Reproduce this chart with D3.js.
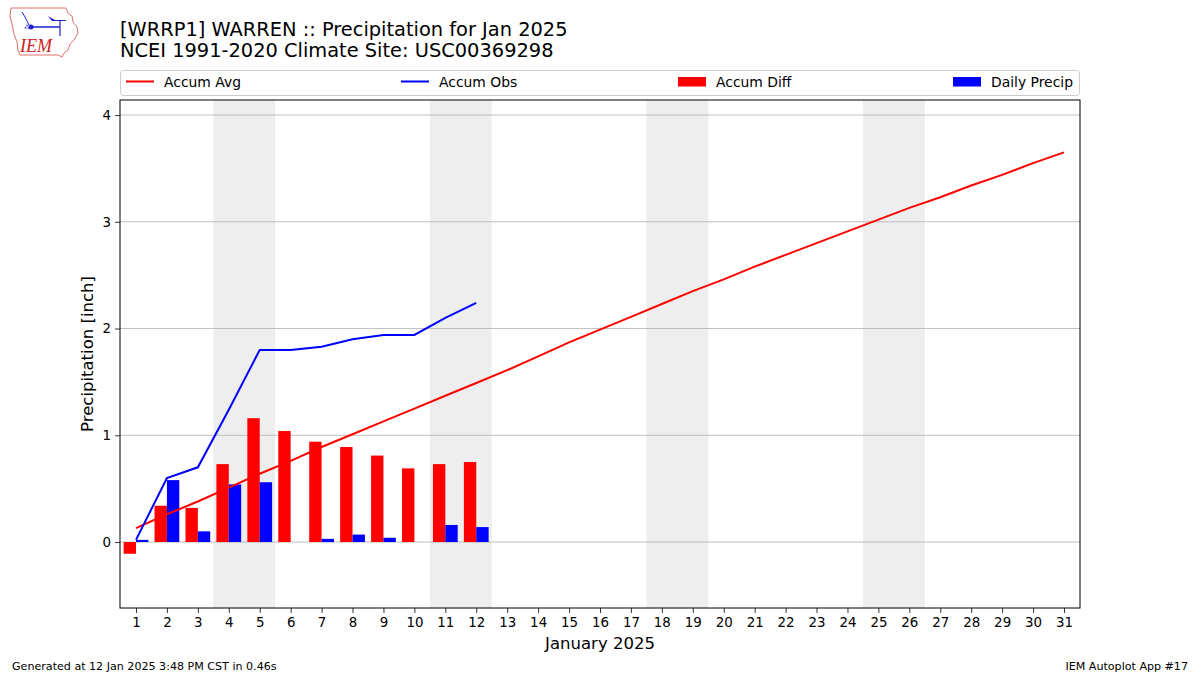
<!DOCTYPE html>
<html><head><meta charset="utf-8">
<script src="https://cdn.jsdelivr.net/npm/d3@7"></script>
<style>body{margin:0;background:#fff;}svg{display:block;font-family:"DejaVu Sans",sans-serif;}</style>
</head><body><svg id="c" width="1200" height="675"></svg>
<script>
const days = d3.range(1, 32);
const obsDays = d3.range(1, 13);
const accumAvg = [0.13,0.26,0.38,0.51,0.64,0.76,0.89,1.01,1.13,1.25,1.37,1.49,1.61,1.74,1.87,1.99,2.11,2.23,2.35,2.46,2.58,2.69,2.80,2.91,3.02,3.13,3.23,3.34,3.44,3.55,3.65];
const accumObs = [0.02,0.60,0.70,1.24,1.80,1.80,1.83,1.90,1.94,1.94,2.10,2.24];
const accumDiff = [-0.11,0.34,0.32,0.73,1.16,1.04,0.94,0.89,0.81,0.69,0.73,0.75];
const dailyPrecip = [0.02,0.58,0.10,0.54,0.56,0.00,0.03,0.07,0.04,0.00,0.16,0.14];
const weekends = [[4,5],[11,12],[18,19],[25,26]];
const yTicks = [0,1,2,3,4];

const svg = d3.select('#c');
const L=120,R=1080,T=100,B=608;
const x = d3.scaleLinear().domain([0.483,31.517]).range([L,R]);
const y = d3.scaleLinear().domain([-0.618,4.141]).range([B,T]);

// weekend shading
svg.selectAll('rect.wk').data(weekends).join('rect')
  .attr('x',d=>x(d[0]-0.5)).attr('width',d=>x(d[1]+0.5)-x(d[0]-0.5))
  .attr('y',T).attr('height',B-T).attr('fill','#eeeeee');

// grid
svg.selectAll('line.g').data(yTicks).join('line')
  .attr('x1',L).attr('x2',R).attr('y1',d=>y(d)).attr('y2',d=>y(d))
  .attr('stroke','#b0b0b0').attr('stroke-width',0.8);

// bars
svg.selectAll('rect.diff').data(accumDiff).join('rect')
  .attr('x',(d,i)=>x(obsDays[i]-0.4)).attr('width',(d,i)=>x(obsDays[i])-x(obsDays[i]-0.4))
  .attr('y',d=>y(Math.max(0,d))).attr('height',d=>Math.abs(y(d)-y(0)))
  .attr('fill','#ff0000');
svg.selectAll('rect.daily').data(dailyPrecip).join('rect')
  .attr('x',(d,i)=>x(obsDays[i])).attr('width',(d,i)=>x(obsDays[i]+0.4)-x(obsDays[i]))
  .attr('y',d=>y(Math.max(0,d))).attr('height',d=>Math.abs(y(d)-y(0)))
  .attr('fill','#0000ff');

// lines
const line = d3.line().x(d=>x(d[0])).y(d=>y(d[1]));
svg.append('path').attr('d',line(days.map((d,i)=>[d,accumAvg[i]])))
  .attr('fill','none').attr('stroke','#ff0000').attr('stroke-width',2);
svg.append('path').attr('d',line(obsDays.map((d,i)=>[d,accumObs[i]])))
  .attr('fill','none').attr('stroke','#0000ff').attr('stroke-width',2);

// axes
const xAxis = d3.axisBottom(x).tickValues(days).tickSize(5).tickPadding(4).tickFormat(d3.format('d'));
const gx = svg.append('g').attr('transform',`translate(0,${B})`).call(xAxis);
gx.select('.domain').remove();
gx.selectAll('text').attr('font-size',13.4).attr('font-family','DejaVu Sans').attr('fill','#000');
gx.selectAll('line').attr('stroke','#000').attr('stroke-width',0.8);
const yAxis = d3.axisLeft(y).tickValues(yTicks).tickSize(5).tickPadding(4).tickFormat(d3.format('d'));
const gy = svg.append('g').attr('transform',`translate(${L},0)`).call(yAxis);
gy.select('.domain').remove();
gy.selectAll('text').attr('font-size',13.4).attr('font-family','DejaVu Sans').attr('fill','#000');
gy.selectAll('line').attr('stroke','#000').attr('stroke-width',0.8);
svg.append('rect').attr('x',L).attr('y',T).attr('width',R-L).attr('height',B-T)
  .attr('fill','none').attr('stroke','#000').attr('stroke-width',1);

// labels
svg.append('text').attr('x',600).attr('y',649).attr('text-anchor','middle').attr('font-size',16.5).text('January 2025');
svg.append('text').attr('transform',`translate(93,${(T+B)/2}) rotate(-90)`).attr('text-anchor','middle').attr('font-size',16.5).text('Precipitation [inch]');
svg.append('text').attr('x',120).attr('y',35.5).attr('font-size',19.4).text('[WRRP1] WARREN :: Precipitation for Jan 2025');
svg.append('text').attr('x',120).attr('y',57).attr('font-size',19.4).text('NCEI 1991-2020 Climate Site: USC00369298');
svg.append('text').attr('x',12).attr('y',670).attr('font-size',11.1).text('Generated at 12 Jan 2025 3:48 PM CST in 0.46s');
svg.append('text').attr('x',1188).attr('y',670).attr('text-anchor','end').attr('font-size',11.1).text('IEM Autoplot App #17');

// legend
svg.append('rect').attr('x',120.5).attr('y',70.5).attr('width',959).attr('height',25).attr('rx',3)
  .attr('fill','#fff').attr('stroke','#cccccc');
const leg = [
  {name:'Accum Avg',type:'line',c:'#ff0000',x:126},
  {name:'Accum Obs',type:'line',c:'#0000ff',x:401},
  {name:'Accum Diff',type:'rect',c:'#ff0000',x:678},
  {name:'Daily Precip',type:'rect',c:'#0000ff',x:953}
];
leg.forEach(l=>{
  if(l.type==='line') svg.append('line').attr('x1',l.x).attr('x2',l.x+28).attr('y1',81.5).attr('y2',81.5).attr('stroke',l.c).attr('stroke-width',2);
  else svg.append('rect').attr('x',l.x).attr('y',77).attr('width',28).attr('height',9.5).attr('fill',l.c);
  svg.append('text').attr('x',l.x+38).attr('y',86.5).attr('font-size',13.9).text(l.name);
});

// logo
const lg = svg.append('g');
lg.append('path').attr('d','M11,8 L66,8 L68,13 L72,16 L73,22 L77,27 L78,33 L74,40 L70,44 L68,50 L64,53 L62,57 L58,55 L20,55 L18,50 L17,42 L14,34 L12,24 L10,16 Z')
  .attr('fill','none').attr('stroke','#e07070').attr('stroke-width',1);
lg.append('line').attr('x1',31).attr('x2',60).attr('y1',27).attr('y2',27).attr('stroke','#2020d0').attr('stroke-width',1.5);
lg.append('circle').attr('cx',31).attr('cy',27).attr('r',2.5).attr('fill','#2020d0');
lg.append('path').attr('d','M48,16 L55,20 L66,20 L66,21 L52,21 Z').attr('fill','#2020d0');
lg.append('path').attr('d','M22,12 L25,17 L29,25').attr('fill','none').attr('stroke','#2020d0').attr('stroke-width',1);
lg.append('line').attr('x1',60).attr('x2',60).attr('y1',20).attr('y2',36).attr('stroke','#2020d0').attr('stroke-width',1.2);
lg.append('text').attr('x',24).attr('y',29).attr('font-size',6).attr('fill','#2020d0').text('⁂');
lg.append('text').attr('x',20).attr('y',52).attr('font-size',18).attr('font-style','italic').attr('font-family','Liberation Serif').attr('fill','#d02020').text('IEM');
</script></body></html>
